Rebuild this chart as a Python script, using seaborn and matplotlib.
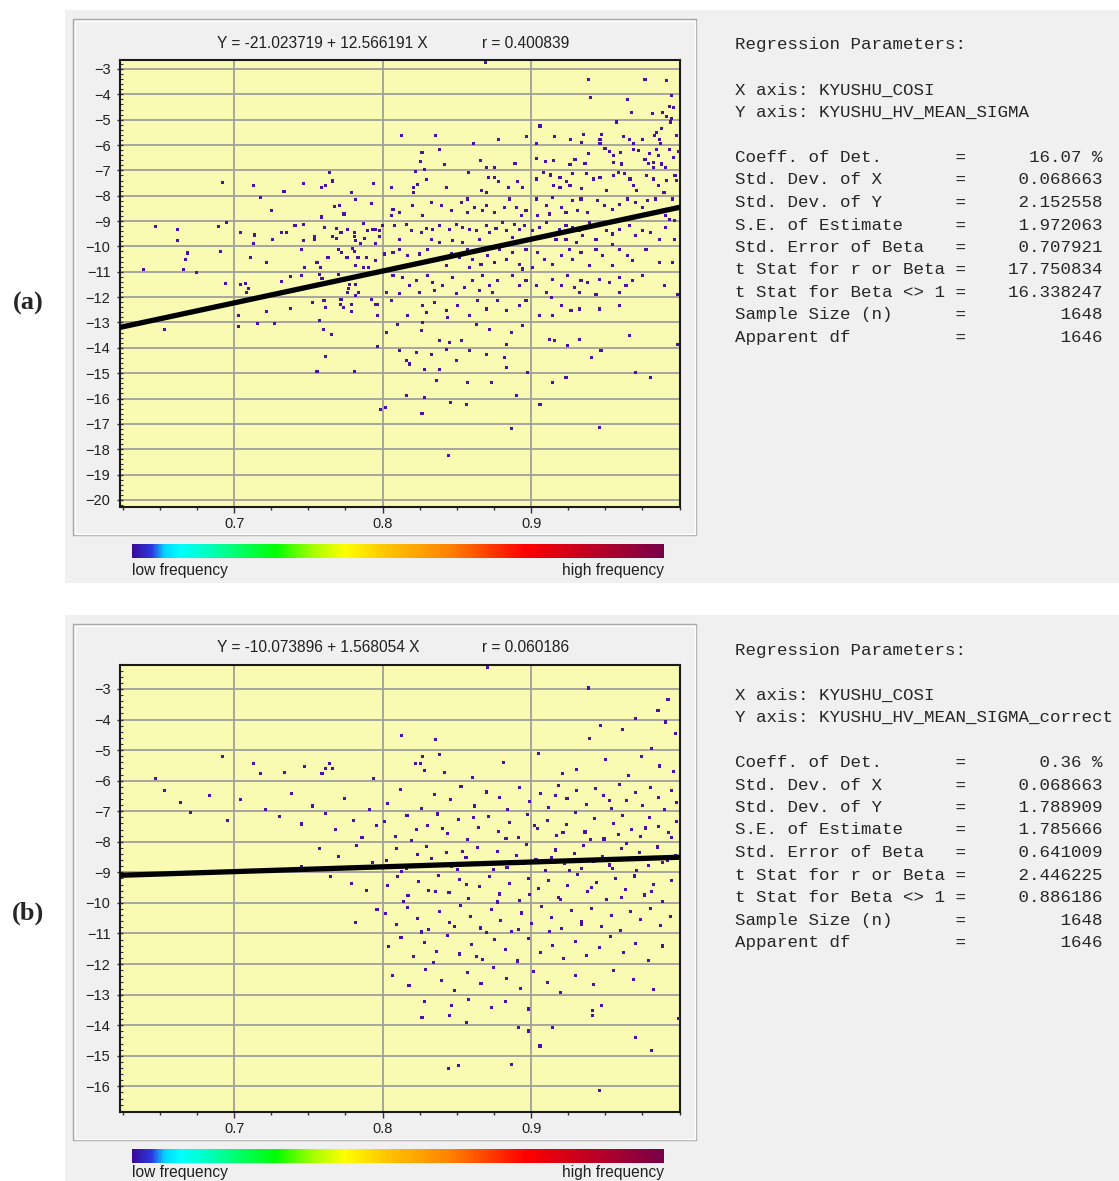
import numpy as np
import matplotlib
matplotlib.use('Agg')
import matplotlib.pyplot as plt
import seaborn as sns
from matplotlib.colors import LinearSegmentedColormap
from matplotlib.patches import Rectangle
from matplotlib.ticker import MultipleLocator, FixedLocator

# ---------------- data ----------------
x_ticks = [0.7, 0.8, 0.9]
yticks_a = list(range(-3, -21, -1))
yticks_b = list(range(-3, -17, -1))

stat_labels = ["Coeff. of Det.", "Std. Dev. of X", "Std. Dev. of Y", "S.E. of Estimate",
               "Std. Error of Beta", "t Stat for r or Beta", "t Stat for Beta <> 1",
               "Sample Size (n)", "Apparent df"]
stats_a = ["16.07 %", "0.068663", "2.152558", "1.972063", "0.707921",
           "17.750834", "16.338247", "1648", "1646"]
stats_b = ["0.36 %", "0.068663", "1.788909", "1.785666", "0.641009",
           "2.446225", "0.886186", "1648", "1646"]
x_name = "KYUSHU_COSI"
y_name_a = "KYUSHU_HV_MEAN_SIGMA"
y_name_b = "KYUSHU_HV_MEAN_SIGMA_correct"

fit_a = (-21.023719, 12.566191, 0.400839)
fit_b = (-10.073896, 1.568054, 0.060186)

# panel (a) scatter, grouped by region
xa_left1 = [0.6924, 0.713, 0.7466, 0.759, 0.764, 0.766, 0.7614, 0.7336, 0.7175, 0.725, 0.779, 0.782,
            0.7937, 0.7928, 0.759, 0.7675, 0.771, 0.774]
ya_left1 = [-7.47, -7.58, -7.53, -7.68, -7.1, -7.42, -7.58, -7.83, -8.07, -8.57, -7.87, -8.16,
            -7.53, -8.29, -8.84, -8.42, -8.37, -8.72]
xa_left2 = [0.6469, 0.6617, 0.6617, 0.6895, 0.695, 0.704, 0.714, 0.713, 0.726, 0.732, 0.735, 0.741,
            0.7466, 0.7466, 0.754, 0.754, 0.761, 0.766, 0.769, 0.772, 0.769, 0.7765, 0.781, 0.781,
            0.782, 0.785, 0.787, 0.788, 0.790, 0.793, 0.795, 0.795, 0.798, 0.798]
ya_left2 = [-9.2, -9.32, -9.78, -9.2, -9.07, -9.45, -9.55, -9.88, -9.74, -9.45, -9.45, -9.18,
            -9.13, -9.78, -9.63, -9.72, -9.25, -9.6, -9.29, -9.45, -9.68, -9.32, -9.45, -9.6,
            -9.78, -9.88, -9.08, -9.68, -9.37, -9.32, -9.32, -9.88, -9.38, -9.6]
xa_left3 = [0.6688, 0.6675, 0.666, 0.639, 0.6749, 0.6906, 0.711, 0.722, 0.7453, 0.7471, 0.7558, 0.758,
            0.7632, 0.7704, 0.7726, 0.776, 0.7796, 0.781, 0.782, 0.7834, 0.789, 0.787, 0.7906, 0.795]
ya_left3 = [-10.26, -10.5, -10.92, -10.92, -11.03, -10.2, -10.43, -10.63, -10.13, -10.84, -10.63, -10.84,
            -10.43, -10.13, -10.24, -10.43, -10.08, -10.21, -10.76, -10.43, -10.43, -10.83, -10.84, -10.54]
xa_left4 = [0.7574, 0.7592, 0.7704, 0.738, 0.7455, 0.7762, 0.7776, 0.777, 0.7765, 0.782, 0.7836, 0.782,
            0.732, 0.704, 0.7074, 0.7096, 0.7085, 0.6939, 0.772, 0.7719, 0.7736, 0.779, 0.779, 0.7926,
            0.795, 0.7966, 0.7527, 0.7605, 0.7617, 0.738, 0.722]
ya_left4 = [-11.1, -11.26, -11.1, -11.18, -11.16, -11.32, -11.49, -11.66, -11.82, -11.49, -11.82, -11.92,
            -11.38, -11.51, -11.46, -11.66, -11.82, -11.46, -12.08, -12.28, -12.41, -12.28, -12.55, -12.08,
            -12.28, -12.28, -12.21, -12.14, -12.41, -12.45, -12.57]
xa_left5 = [0.7029, 0.7029, 0.716, 0.7274, 0.7574, 0.76, 0.7657, 0.7966, 0.6529, 0.7614, 0.7966, 0.7558,
            0.781, 0.7984]
ya_left5 = [-12.74, -13.17, -13.03, -13.03, -12.93, -13.29, -13.46, -12.74, -13.29, -14.34, -13.95, -14.95,
            -14.95, -16.44]
xa_top = [0.813, 0.8354, 0.8265, 0.8383, 0.8693, 0.9386, 0.9767, 0.9913, 0.9401, 0.9648, 0.9946, 0.993,
          0.9957, 0.9677, 0.9816, 0.9886, 0.9913, 0.9946, 0.994, 0.9576, 0.906, 0.988, 0.9845, 0.9834,
          0.878, 0.897, 0.9155, 0.9267, 0.9352, 0.9475, 0.9464, 0.962, 0.9665, 0.9688, 0.975, 0.9867,
          0.9872, 0.998, 0.8612, 0.9038, 0.9341, 0.9464, 0.9498]
ya_top = [-5.64, -5.64, -6.3, -6.19, -2.76, -3.42, -3.42, -3.47, -4.12, -4.19, -4.05, -4.49,
          -4.53, -4.7, -4.75, -4.7, -4.88, -4.95, -5.09, -5.09, -5.25, -5.35, -5.51, -5.64,
          -5.77, -5.68, -5.68, -5.77, -5.59, -5.59, -5.77, -5.68, -5.77, -5.93, -5.77, -5.77,
          -5.93, -5.64, -5.95, -5.95, -5.91, -5.93, -6.14]
xa_r6 = [0.8253, 0.8415, 0.8283, 0.822, 0.8294, 0.8058, 0.8208, 0.8235, 0.8428, 0.8208,
         0.9531, 0.9554, 0.96, 0.9554, 0.9611, 0.9688, 0.9722, 0.98, 0.9845, 0.9861, 0.9935, 0.9962,
         0.9767, 0.979, 0.9823, 0.9823, 0.988, 0.9906, 0.9991, 0.8657, 0.8892, 0.8702, 0.8751, 0.9038,
         0.9099, 0.915, 0.9262, 0.9296, 0.9386, 0.9363]
ya_r6 = [-6.65, -6.78, -6.95, -7.05, -7.35, -7.68, -7.68, -7.57, -7.68, -7.86,
         -6.27, -6.43, -6.3, -6.69, -6.75, -6.17, -6.23, -6.32, -6.17, -6.43, -6.17, -6.49,
         -6.56, -6.73, -6.69, -6.88, -6.75, -6.88, -6.27, -6.6, -6.72, -6.9, -6.9, -6.53,
         -6.65, -6.62, -6.78, -6.56, -6.32, -6.72]
xa_r7 = [0.8578, 0.8713, 0.8753, 0.878, 0.8847, 0.8908, 0.8944, 0.8209, 0.8433, 0.8668, 0.8702, 0.9038,
         0.9083, 0.9128, 0.9195, 0.924, 0.928, 0.915, 0.9195, 0.9262, 0.9341, 0.9375, 0.942, 0.9464,
         0.9509, 0.9554, 0.9587, 0.9632, 0.9666, 0.9688, 0.9711, 0.9778, 0.9823, 0.9857, 0.9913, 0.9969,
         0.998, 0.9895]
ya_r7 = [-7.1, -7.27, -7.27, -7.44, -7.69, -7.44, -7.69, -7.67, -7.67, -7.8, -7.86, -7.34,
         -7.1, -7.18, -7.27, -7.44, -7.14, -7.6, -7.69, -7.6, -7.73, -7.14, -7.34, -7.27,
         -7.8, -7.21, -7.08, -7.14, -7.34, -7.6, -7.8, -7.21, -7.34, -7.6, -7.41, -7.21,
         -7.41, -7.86]
xa_r8 = [0.807, 0.8204, 0.8327, 0.8395, 0.8462, 0.8529, 0.8574, 0.8619, 0.8675, 0.8697, 0.8753, 0.882,
         0.8854, 0.8899, 0.8933, 0.8966, 0.9034, 0.9101, 0.9146, 0.9202, 0.9235, 0.928, 0.9314, 0.9336,
         0.9381, 0.9448, 0.9493, 0.9549, 0.9594, 0.9651, 0.9706, 0.9751, 0.9785, 0.9841, 0.9908, 0.9953,
         0.9931, 0.9964, 0.8058, 0.8114, 0.8271, 0.8574, 0.9045, 0.9123]
ya_r8 = [-8.53, -8.39, -8.26, -8.39, -8.59, -8.26, -8.13, -8.46, -8.59, -8.39, -8.66, -8.46,
         -8.13, -8.46, -8.79, -8.59, -8.13, -8.39, -8.07, -8.46, -8.66, -8.2, -8.59, -8.13,
         -8.66, -8.2, -8.39, -8.53, -8.33, -8.13, -8.26, -8.46, -8.2, -8.13, -8.79, -8.13,
         -8.92, -8.99, -8.79, -8.66, -8.79, -8.66, -8.79, -8.72]
xa_r9 = [0.8002, 0.808, 0.8159, 0.8193, 0.826, 0.8294, 0.8339, 0.8383, 0.845, 0.8496, 0.854, 0.8585,
         0.863, 0.8652, 0.8697, 0.872, 0.8764, 0.8809, 0.8832, 0.8888, 0.8922, 0.8955, 0.9011, 0.9056,
         0.9101, 0.9191, 0.9235, 0.928, 0.9325, 0.9348, 0.9392, 0.9437, 0.9505, 0.9549, 0.9594, 0.9661,
         0.9706, 0.9751, 0.9807, 0.9863, 0.9908, 0.9964, 0.8114, 0.8327, 0.8383, 0.8473, 0.854, 0.8877,
         0.9168, 0.9235, 0.9303, 0.9549]
ya_r9 = [-9.18, -9.18, -9.12, -9.38, -9.45, -9.29, -9.32, -9.18, -9.32, -9.12, -9.25, -9.32,
         -9.38, -9.71, -9.18, -9.45, -9.29, -9.05, -9.38, -9.12, -9.32, -9.18, -9.38, -9.25,
         -9.05, -9.32, -9.18, -9.25, -9.38, -9.58, -9.05, -9.71, -9.38, -9.51, -9.32, -9.18,
         -9.58, -9.38, -9.45, -9.71, -9.25, -9.71, -9.71, -9.71, -9.84, -9.78, -9.84, -9.64,
         -9.71, -9.71, -9.84, -9.91]
xa_r10 = [0.8013, 0.807, 0.8114, 0.817, 0.8249, 0.8305, 0.835, 0.8428, 0.8462, 0.8518, 0.8574, 0.8608,
          0.8663, 0.8708, 0.8753, 0.8787, 0.8832, 0.8877, 0.8922, 0.8966, 0.9011, 0.9045, 0.909, 0.9146,
          0.9202, 0.9258, 0.928, 0.9336, 0.9392, 0.9437, 0.9482, 0.9549, 0.9594, 0.9651, 0.9684, 0.9774,
          0.9863, 0.9953, 0.8944, 0.8585]
ya_r10 = [-10.3, -10.24, -10.11, -10.37, -10.3, -10.11, -10.5, -10.76, -10.3, -10.43, -10.11, -10.5,
          -10.7, -10.37, -10.63, -10.11, -10.5, -10.24, -10.7, -10.11, -10.83, -10.24, -10.5, -10.7,
          -10.37, -10.11, -10.5, -10.24, -10.76, -10.11, -10.37, -10.76, -10.11, -10.37, -10.57, -10.11,
          -10.63, -10.63, -10.89, -10.83]
xa_r11 = [0.807, 0.8137, 0.8182, 0.8227, 0.8305, 0.8339, 0.8406, 0.8473, 0.8552, 0.8608, 0.8675, 0.872,
          0.8776, 0.8877, 0.8922, 0.8966, 0.9034, 0.9101, 0.9146, 0.9202, 0.9247, 0.9291, 0.9336, 0.9381,
          0.9459, 0.9527, 0.9594, 0.9639, 0.9684, 0.9751, 0.9897, 0.8025, 0.8114, 0.8249, 0.835, 0.8496,
          0.8652, 0.8742, 0.9325, 0.9437, 0.9594, 0.9987]
ya_r11 = [-11.16, -11.22, -11.55, -11.36, -11.16, -11.42, -11.55, -11.22, -11.62, -11.36, -11.16, -11.55,
          -11.36, -11.16, -11.55, -11.36, -11.55, -11.82, -11.29, -11.55, -11.16, -11.62, -11.36, -11.42,
          -11.29, -11.42, -11.22, -11.55, -11.36, -11.16, -11.55, -11.82, -11.84, -11.82, -11.75, -11.84,
          -11.75, -11.82, -11.82, -11.88, -11.82, -11.88]
xa_r12 = [0.8058, 0.817, 0.8271, 0.8294, 0.835, 0.8428, 0.8507, 0.8585, 0.8641, 0.8697, 0.8776, 0.8832,
          0.8922, 0.8966, 0.9056, 0.9146, 0.9135, 0.9202, 0.9269, 0.9325, 0.946, 0.9594, 0.8439]
ya_r12 = [-12.14, -12.74, -12.34, -12.61, -12.21, -12.54, -12.34, -12.74, -12.14, -12.47, -12.14, -12.54,
          -12.34, -12.14, -12.74, -12.74, -12.01, -12.34, -12.54, -12.47, -12.47, -12.34, -12.8]
xa_r13 = [0.8025, 0.8103, 0.826, 0.8271, 0.8383, 0.845, 0.8529, 0.863, 0.872, 0.8832, 0.8866, 0.8944,
          0.9123, 0.9157, 0.9247, 0.9325, 0.9661, 0.9987]
ya_r13 = [-13.39, -13.07, -13.33, -13.0, -13.72, -13.79, -13.72, -13.07, -13.26, -13.86, -13.39, -13.13,
          -13.66, -13.72, -13.92, -13.66, -13.53, -13.86]
xa_low = [0.8114, 0.8226, 0.8327, 0.8428, 0.8496, 0.8585, 0.8697, 0.8821, 0.8832, 0.8159, 0.8182, 0.8282,
          0.8383, 0.9404, 0.9471, 0.8978, 0.9706, 0.8361, 0.8574, 0.8731, 0.9146, 0.9235, 0.9807, 0.8159,
          0.8282, 0.8899, 0.8018, 0.8265, 0.8455, 0.8444, 0.8563, 0.887, 0.906, 0.946]
ya_low = [-14.12, -14.18, -14.25, -14.05, -14.51, -14.12, -14.25, -14.38, -14.78, -14.51, -14.64, -14.84,
          -14.84, -14.38, -14.12, -14.97, -14.97, -15.3, -15.37, -15.37, -15.37, -15.17, -15.17, -15.89,
          -15.96, -15.89, -16.36, -16.6, -16.17, -18.24, -16.23, -17.2, -16.23, -17.13]

# panel (b) scatter, grouped by region
xb_left = [0.6924, 0.7132, 0.7177, 0.7339, 0.7471, 0.7592, 0.7614, 0.7644, 0.7661, 0.7939, 0.6471]
yb_left = [-5.2, -5.43, -5.78, -5.73, -5.55, -5.78, -5.59, -5.43, -5.59, -5.93, -5.93]
xb_left2 = [0.6532, 0.6641, 0.6705, 0.6837, 0.6958, 0.7044, 0.7213, 0.7305, 0.7389, 0.7452, 0.7527, 0.7618,
            0.7683, 0.7742, 0.7806, 0.7861, 0.7912, 0.7958, 0.7574, 0.7705, 0.7823, 0.7931, 0.7648, 0.7788,
            0.7889, 0.7453, 0.7962, 0.7816]
yb_left2 = [-6.31, -6.72, -7.05, -6.48, -7.31, -6.62, -6.95, -7.18, -6.41, -7.42, -6.83, -7.07,
            -7.61, -6.58, -7.29, -7.85, -6.93, -7.48, -8.21, -8.47, -8.12, -8.69, -9.14, -9.36,
            -9.58, -8.82, -10.21, -10.63]
xb_top = [0.813, 0.8354, 0.8222, 0.8253, 0.8269, 0.8283, 0.8383, 0.8415, 0.8707, 0.9386, 0.9922,
          0.9701, 0.9855, 0.9468]
yb_top = [-4.51, -4.65, -5.43, -5.43, -5.2, -5.67, -5.14, -5.74, -2.31, -2.97, -3.36,
          -3.98, -3.71, -4.21]
xb_r5 = [0.8605, 0.8812, 0.9048, 0.9213, 0.9307, 0.9391, 0.9502, 0.9618, 0.9655, 0.9744, 0.9812, 0.9866,
         0.9903, 0.9957, 0.9974]
yb_r5 = [-5.91, -5.42, -5.12, -5.78, -5.63, -4.62, -5.31, -4.33, -5.84, -5.21, -4.95, -5.52,
         -4.08, -5.71, -4.47]
xb_r6 = [0.8032, 0.8121, 0.8263, 0.8347, 0.8455, 0.8528, 0.8619, 0.8702, 0.8788, 0.8843, 0.8925, 0.8991,
         0.9062, 0.9115, 0.9187, 0.9242, 0.9306, 0.9371, 0.9433, 0.9488, 0.9544, 0.9597, 0.9642, 0.9703,
         0.9751, 0.9806, 0.9858, 0.9901, 0.9946, 0.9982, 0.9165, 0.9528]
yb_r6 = [-6.74, -6.28, -6.91, -6.45, -6.62, -6.18, -6.83, -6.37, -6.55, -6.94, -6.21, -6.68,
         -6.42, -6.87, -6.15, -6.59, -6.33, -6.77, -6.26, -6.5, -6.91, -6.12, -6.64, -6.38,
         -6.81, -6.23, -6.56, -6.95, -6.31, -6.72, -6.48, -6.66]
xb_r7 = [0.8015, 0.8087, 0.8164, 0.8229, 0.8301, 0.8372, 0.8436, 0.8511, 0.8573, 0.8648, 0.8716, 0.8781,
         0.8852, 0.8913, 0.8977, 0.9041, 0.9108, 0.9172, 0.9239, 0.9297, 0.9363, 0.9425, 0.9491, 0.9556,
         0.9613, 0.9679, 0.9738, 0.9797, 0.9861, 0.9924, 0.9978, 0.8196, 0.8402, 0.8613, 0.8831, 0.9021,
         0.9215, 0.9402, 0.9587, 0.9771, 0.9943]
yb_r7 = [-7.35, -7.82, -7.14, -7.61, -7.47, -7.09, -7.73, -7.28, -7.94, -7.52, -7.17, -7.66,
         -7.38, -7.86, -7.11, -7.57, -7.31, -7.79, -7.44, -7.05, -7.68, -7.25, -7.91, -7.41,
         -7.13, -7.59, -7.84, -7.22, -7.49, -7.71, -7.33, -7.95, -7.58, -7.21, -7.88, -7.46,
         -7.69, -7.93, -7.76, -7.55, -7.87]
xb_r8 = [0.8024, 0.8093, 0.8158, 0.8237, 0.8295, 0.8366, 0.8429, 0.8504, 0.8562, 0.8639, 0.8705, 0.8774,
         0.8838, 0.8902, 0.8968, 0.9033, 0.9097, 0.9164, 0.9228, 0.9291, 0.9355, 0.9418, 0.9484, 0.9547,
         0.9608, 0.9671, 0.9733, 0.9792, 0.9853, 0.9916, 0.9971, 0.8128, 0.8331, 0.8536, 0.8744, 0.8951,
         0.9139, 0.9337, 0.9526, 0.9712, 0.9884, 0.8467, 0.9261, 0.9645]
yb_r8 = [-8.61, -8.23, -8.88, -8.42, -8.15, -8.74, -8.36, -8.92, -8.51, -8.19, -8.67, -8.31,
         -8.83, -8.45, -8.08, -8.58, -8.95, -8.27, -8.71, -8.39, -8.12, -8.64, -8.48, -8.86,
         -8.21, -8.55, -8.34, -8.79, -8.17, -8.62, -8.44, -8.97, -8.55, -8.33, -8.91, -8.72,
         -8.52, -8.88, -8.76, -8.95, -8.69, -8.81, -8.93, -8.07]
xb_r9 = [0.8031, 0.8102, 0.8171, 0.8244, 0.8308, 0.8379, 0.8447, 0.8516, 0.8581, 0.8652, 0.8721, 0.8786,
         0.8855, 0.8921, 0.8984, 0.9052, 0.9118, 0.9183, 0.9247, 0.9312, 0.9378, 0.9441, 0.9507, 0.9571,
         0.9634, 0.9698, 0.9762, 0.9823, 0.9887, 0.9948, 0.8142, 0.8355, 0.8568, 0.8771, 0.8987, 0.9196,
         0.9404, 0.9612, 0.9809]
yb_r9 = [-9.42, -9.15, -9.77, -9.31, -9.58, -9.09, -9.66, -9.24, -9.85, -9.47, -9.13, -9.71,
         -9.36, -9.92, -9.19, -9.53, -9.28, -9.81, -9.44, -9.06, -9.62, -9.33, -9.88, -9.21,
         -9.55, -9.12, -9.74, -9.39, -9.95, -9.27, -9.96, -9.63, -9.41, -9.97, -9.72, -9.89,
         -9.49, -9.83, -9.64]
xb_r10 = [0.8019, 0.8095, 0.8167, 0.8233, 0.8312, 0.8384, 0.8451, 0.8522, 0.8594, 0.8661, 0.8733, 0.8797,
          0.8869, 0.8934, 0.9003, 0.9071, 0.9139, 0.9205, 0.9274, 0.9341, 0.9407, 0.9476, 0.9539, 0.9603,
          0.9668, 0.9735, 0.9805, 0.9872, 0.9938, 0.8259, 0.8483, 0.8702, 0.8917, 0.9126, 0.9338]
yb_r10 = [-10.36, -10.71, -10.14, -10.52, -10.88, -10.27, -10.63, -10.09, -10.45, -10.82, -10.21, -10.58,
          -10.93, -10.33, -10.67, -10.12, -10.49, -10.85, -10.24, -10.61, -10.17, -10.76, -10.4, -10.91,
          -10.29, -10.55, -10.19, -10.73, -10.44, -10.95, -10.78, -10.97, -10.87, -10.94, -10.69]
xb_r11 = [0.8041, 0.8124, 0.8207, 0.8283, 0.8362, 0.8438, 0.8519, 0.8597, 0.8672, 0.8751, 0.8829, 0.8906,
          0.8985, 0.9063, 0.9142, 0.9221, 0.9298, 0.9376, 0.9459, 0.9537, 0.9621, 0.9704, 0.9792, 0.9883,
          0.8345, 0.8632, 0.8911]
yb_r11 = [-11.43, -11.12, -11.76, -11.29, -11.58, -11.07, -11.67, -11.35, -11.84, -11.21, -11.52, -11.93,
          -11.16, -11.61, -11.38, -11.82, -11.25, -11.71, -11.47, -11.09, -11.63, -11.34, -11.88, -11.41,
          -11.96, -11.74, -11.9]
xb_r12 = [0.8066, 0.8178, 0.8289, 0.8394, 0.8487, 0.8571, 0.8663, 0.8748, 0.8836, 0.8927, 0.9014, 0.9108,
          0.9197, 0.9302, 0.9418, 0.9553, 0.9687, 0.9826]
yb_r12 = [-12.36, -12.71, -12.18, -12.55, -12.87, -12.29, -12.63, -12.12, -12.48, -12.81, -12.24, -12.59,
          -12.93, -12.38, -12.67, -12.21, -12.52, -12.84]
xb_low = [0.8283, 0.8466, 0.8265, 0.8451, 0.8444, 0.8511, 0.8578, 0.8735, 0.8825, 0.8982, 0.8563, 0.8915,
          0.8982, 0.9146, 0.906, 0.9415, 0.9415, 0.9475, 0.9706, 0.9812, 0.9991, 0.887, 0.946]
yb_low = [-13.22, -13.35, -13.76, -13.68, -15.42, -15.31, -13.17, -13.41, -13.22, -13.47, -13.9, -14.07,
          -14.19, -14.07, -14.68, -13.51, -13.68, -13.35, -14.41, -14.84, -13.79, -15.28, -16.14]

xa = np.concatenate([xa_left1, xa_left2, xa_left3, xa_left4, xa_left5, xa_top, xa_r6, xa_r7, xa_r8,
                     xa_r9, xa_r10, xa_r11, xa_r12, xa_r13, xa_low])
ya = np.concatenate([ya_left1, ya_left2, ya_left3, ya_left4, ya_left5, ya_top, ya_r6, ya_r7, ya_r8,
                     ya_r9, ya_r10, ya_r11, ya_r12, ya_r13, ya_low])
xb = np.concatenate([xb_left, xb_left2, xb_top, xb_r5, xb_r6, xb_r7, xb_r8, xb_r9, xb_r10,
                     xb_r11, xb_r12, xb_low])
yb = np.concatenate([yb_left, yb_left2, yb_top, yb_r5, yb_r6, yb_r7, yb_r8, yb_r9, yb_r10,
                     yb_r11, yb_r12, yb_low])

# ---------------- layout / style ----------------
W, H = 1119, 1181
DOT = '#4a10a8'
YELLOW = '#f9fbb3'
GRID = '#a0a0a0'
PANEL = '#f0f0f0'
X_RANGE = (0.6228, 1.0003)

sns.set_style('white')
plt.rcParams['font.family'] = ['Liberation Sans', 'DejaVu Sans']
plt.rcParams['axes.unicode_minus'] = True

freq_cmap = LinearSegmentedColormap.from_list('freq', [
    (0.0, '#3b0a98'), (0.035, '#2a3ae0'), (0.06, '#00d8ff'), (0.09, '#00ffff'),
    (0.14, '#00ffc0'), (0.27, '#00ff00'), (0.34, '#a8ff00'), (0.40, '#ffff00'),
    (0.48, '#ffc400'), (0.60, '#ff8000'), (0.74, '#ff0000'), (0.86, '#c00022'),
    (1.0, '#780048')])

fig = plt.figure(figsize=(W / 100, H / 100), dpi=100)
fig.patch.set_facecolor('white')


def frac(l, t, r, b):
    return [l / W, 1 - b / H, (r - l) / W, (b - t) / H]


def fy(y):
    return 1 - y / H


def draw_panel(off, xs, ys, fit, ylim, yticks, stats, y_name, tag, tag_y):
    # gray window background and plot frame
    bg_top, bg_bottom = 10 + off, min(583 + off, H)
    fig.add_artist(Rectangle((65 / W, fy(bg_bottom)), (W - 65) / W, (bg_bottom - bg_top) / H,
                             transform=fig.transFigure, facecolor=PANEL, edgecolor='none', zorder=-3))
    fig.add_artist(Rectangle((73 / W, fy(535 + off)), (696 - 73) / W, (535 - 19) / H,
                             transform=fig.transFigure, fill=False, edgecolor='#a8a8a8', lw=1, zorder=-2))
    fig.add_artist(Rectangle((74.5 / W, fy(533.5 + off)), (694.5 - 74.5) / W, (533.5 - 20.5) / H,
                             transform=fig.transFigure, fill=False, edgecolor='white', lw=1, zorder=-2))

    ax = fig.add_axes(frac(119.5, 60 + off, 680, 507 + off))
    ax.set_facecolor(YELLOW)
    sns.scatterplot(x=xs, y=ys, marker='s', s=5, color=DOT, edgecolor='none', linewidth=0,
                    ax=ax, zorder=3, legend=False)
    intercept, slope, r_val = fit
    line_x = np.array(X_RANGE)
    sns.lineplot(x=line_x, y=intercept + slope * line_x, color='black', linewidth=3.8,
                 ax=ax, zorder=4)
    ax.set_xlim(*X_RANGE)
    ax.set_ylim(*ylim)
    ax.set_xlabel('')
    ax.set_ylabel('')
    ax.xaxis.set_major_locator(FixedLocator(x_ticks))
    ax.xaxis.set_minor_locator(MultipleLocator(0.025))
    ax.yaxis.set_major_locator(FixedLocator(yticks))
    ax.yaxis.set_minor_locator(MultipleLocator(0.2))
    ax.set_xticklabels([f'{v:.1f}' for v in x_ticks])
    ax.grid(True, which='major', color=GRID, linewidth=1.3)
    ax.set_axisbelow(True)
    for s in ax.spines.values():
        s.set_color('#1a1a1a')
        s.set_linewidth(1.5)
    ax.tick_params(axis='x', which='major', direction='out', length=4.5, width=1,
                   color='#333333', pad=3, labelsize=10.5, labelcolor='#202020')
    ax.tick_params(axis='x', which='minor', direction='out', length=2.5, width=1, color='#333333')
    ax.tick_params(axis='y', which='major', direction='inout', length=5, width=1,
                   color='#333333', pad=4, labelsize=10.5, labelcolor='#202020')
    ax.tick_params(axis='y', which='minor', direction='in', length=2, width=0.8, color='#333333')
    ax.tick_params(left=True, bottom=True, which='both')

    # equation and r above the plot
    fig.text(217 / W, fy(43 + off), f'Y = {intercept:.6f} + {slope:.6f} X',
             ha='left', va='center', fontsize=11.2, color='#202020')
    fig.text(482 / W, fy(43 + off), f'r = {r_val:.6f}',
             ha='left', va='center', fontsize=11.2, color='#202020')

    # frequency colour bar
    cax = fig.add_axes(frac(132, 544 + off, 664, 558 + off))
    cax.imshow(np.linspace(0, 1, 512)[None, :], aspect='auto', cmap=freq_cmap)
    cax.axis('off')
    lab_y = min(571 + off, H - 9)
    fig.text(132 / W, fy(lab_y), 'low frequency', ha='left', va='center',
             fontsize=11.2, color='#202020')
    fig.text(664 / W, fy(lab_y), 'high frequency', ha='right', va='center',
             fontsize=11.2, color='#202020')

    # regression text block
    lines = ['Regression Parameters:', '',
             f'X axis: {x_name}', f'Y axis: {y_name}', '']
    lines += [f'{lab:<21}={val:>13}' for lab, val in zip(stat_labels, stats)]
    for i, line in enumerate(lines):
        if line:
            fig.text(735 / W, fy(45 + off + 22.5 * i), line, ha='left', va='center',
                     family=['Liberation Mono', 'DejaVu Sans Mono'], fontsize=12.6,
                     color='#262626')

    fig.text(28 / W, fy(tag_y), tag, ha='center', va='center',
             family=['Liberation Serif', 'DejaVu Serif'], fontsize=19, weight='bold')


draw_panel(0, xa, ya, fit_a, (-20.28, -2.645), yticks_a, stats_a, y_name_a, '(a)', 303)
draw_panel(605, xb, yb, fit_b, (-16.84, -2.217), yticks_b, stats_b, y_name_b, '(b)', 913)

fig.savefig('out.png', dpi=100, facecolor='white')
